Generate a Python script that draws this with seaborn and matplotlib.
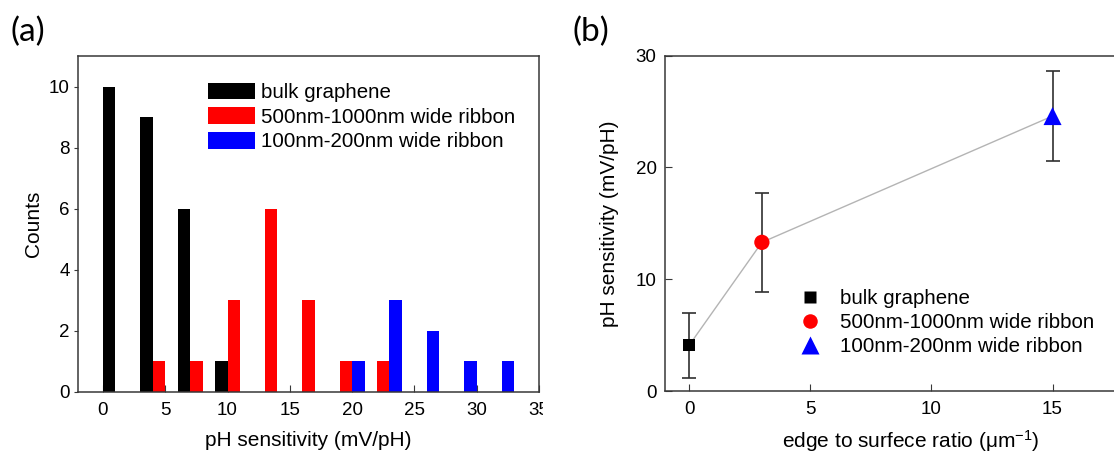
import numpy as np
import pandas as pd
import matplotlib
matplotlib.use("Agg")
import matplotlib.pyplot as plt
import seaborn as sns
from matplotlib.patches import Patch
from matplotlib.lines import Line2D
from matplotlib.transforms import Bbox, TransformedBbox

sns.set_style("ticks")
plt.rcParams["font.family"] = ["Liberation Sans", "DejaVu Sans"]
plt.rcParams["mathtext.fontset"] = "custom"
plt.rcParams["mathtext.rm"] = "Liberation Sans"
plt.rcParams["mathtext.it"] = "Liberation Sans:italic"
plt.rcParams["text.color"] = "black"
plt.rcParams["axes.labelcolor"] = "black"
plt.rcParams["xtick.labelcolor"] = "black"
plt.rcParams["ytick.labelcolor"] = "black"

# ---- data, panel (a): histogram counts (left edge of each bar, mV/pH)
groups = ["bulk graphene", "500nm-1000nm wide ribbon", "100nm-200nm wide ribbon"]
colors = ["#000000", "#ff0000", "#0000ff"]

bulk_x = [0, 3, 6, 9]
bulk_counts = [10, 9, 6, 1]
wide_x = [4, 7, 10, 13, 16, 19, 22]
wide_counts = [1, 1, 3, 6, 3, 1, 1]
narrow_x = [20, 23, 26, 29, 32]
narrow_counts = [1, 3, 2, 1, 1]

# ---- data, panel (b): mean sensitivity vs edge/surface ratio
ratio = [0, 3, 15]
sens_mean = [4.1, 13.3, 24.6]
sens_err = [2.9, 4.4, 4.0]
markers = ["s", "o", "^"]
marker_sizes = [9, 11, 13]

hist_df = pd.concat([
    pd.DataFrame({"x": bulk_x, "count": bulk_counts, "group": groups[0]}),
    pd.DataFrame({"x": wide_x, "count": wide_counts, "group": groups[1]}),
    pd.DataFrame({"x": narrow_x, "count": narrow_counts, "group": groups[2]}),
], ignore_index=True)
pt_df = pd.DataFrame({"ratio": ratio, "sens": sens_mean, "err": sens_err, "group": groups})

W, H = 1114, 454
fig = plt.figure(figsize=(W / 100, H / 100), dpi=100)
ax_a = fig.add_axes([78 / W, 62 / H, 461 / W, 336 / H])
ax_b = fig.add_axes([665 / W, 63 / H, 460.2 / W, 335.3 / H])

spine_col = "#383838"

# =========================
# (a) histogram
# =========================
sns.histplot(data=hist_df, x="x", weights="count", hue="group", hue_order=groups,
             palette=colors, bins=list(range(0, 34)), multiple="layer",
             alpha=1, linewidth=0, legend=False, ax=ax_a)
ax_a.set_xlim(-2, 35)
ax_a.set_ylim(0, 11)
ax_a.set_xticks(range(0, 36, 5))
ax_a.set_yticks(range(0, 11, 2))
ax_a.tick_params(axis="x", direction="in", length=5, pad=7, labelsize=13.5, color=spine_col)
ax_a.tick_params(axis="y", direction="out", length=3, pad=3, labelsize=13.5, color=spine_col)
ax_a.set_xlabel("pH sensitivity (mV/pH)", fontsize=15)
ax_a.set_ylabel("Counts", fontsize=15)
ax_a.xaxis.set_label_coords(0.5, -0.116)
ax_a.yaxis.set_label_coords(-0.076, 0.5)

handles = [Patch(facecolor=c, edgecolor="none") for c in colors]
ax_a.legend(handles, groups, loc="upper left", bbox_to_anchor=(0.282, 0.921),
            frameon=False, fontsize=14.8, borderpad=0, borderaxespad=0,
            handlelength=2.3, handleheight=0.88, handletextpad=0.3, labelspacing=0.25)

# =========================
# (b) mean sensitivity
# =========================
sns.lineplot(data=pt_df, x="ratio", y="sens", color="#b4b4b4", linewidth=1,
             ax=ax_b, legend=False, zorder=1)
ax_b.errorbar(ratio, sens_mean, yerr=sens_err, fmt="none", ecolor="#303030",
              elinewidth=1.2, capsize=4.7, capthick=1.2, zorder=2)
for i in range(len(groups)):
    sns.scatterplot(x=[ratio[i]], y=[sens_mean[i]], marker=markers[i],
                    s=marker_sizes[i] ** 2, color=colors[i], edgecolor="none",
                    ax=ax_b, zorder=3)
ax_b.set_xlim(-1, 18)
ax_b.set_ylim(0, 30)
ax_b.set_xticks([0, 5, 10, 15])
ax_b.set_yticks([0, 10, 20, 30])
ax_b.tick_params(axis="both", direction="in", length=5, labelsize=13.5, color=spine_col)
ax_b.tick_params(axis="x", pad=7)
ax_b.tick_params(axis="y", pad=6)
ax_b.set_xlabel("edge to surfece ratio (\u03bcm$^{-1}$)", fontsize=15)
ax_b.set_ylabel("pH sensitivity (mV/pH)", fontsize=15)
ax_b.xaxis.set_label_coords(0.533, -0.110)
ax_b.yaxis.set_label_coords(-0.100, 0.5)

mk_handles = [Line2D([], [], linestyle="none", marker=m, markersize=ms * 0.95,
                     markerfacecolor=c, markeredgecolor="none")
              for m, ms, c in zip(markers, marker_sizes, colors)]
ax_b.legend(mk_handles, groups, loc="upper left", bbox_to_anchor=(0.292, 0.305),
            frameon=False, fontsize=14.8, borderpad=0, borderaxespad=0,
            handlelength=1.0, handletextpad=0.98, labelspacing=0.25)

for ax in (ax_a, ax_b):
    for sp in ax.spines.values():
        sp.set_visible(True)
        sp.set_color(spine_col)
        sp.set_linewidth(1.1)

# panel letters
fig.text(10 / W, 1 - 32 / H, "(a)", fontsize=24, family=["Lato", "DejaVu Sans"], va="center")
fig.text(573 / W, 1 - 32 / H, "(b)", fontsize=24, family=["Lato", "DejaVu Sans"], va="center")

# the last tick label of (a) is cut at the panel edge in the original
clip = TransformedBbox(Bbox.from_extents(0, 0, 543 / W, 1), fig.transFigure)
for lbl in ax_a.get_xticklabels():
    lbl.set_clip_box(clip)
    lbl.set_clip_on(True)

fig.savefig("out.png", dpi=100)
